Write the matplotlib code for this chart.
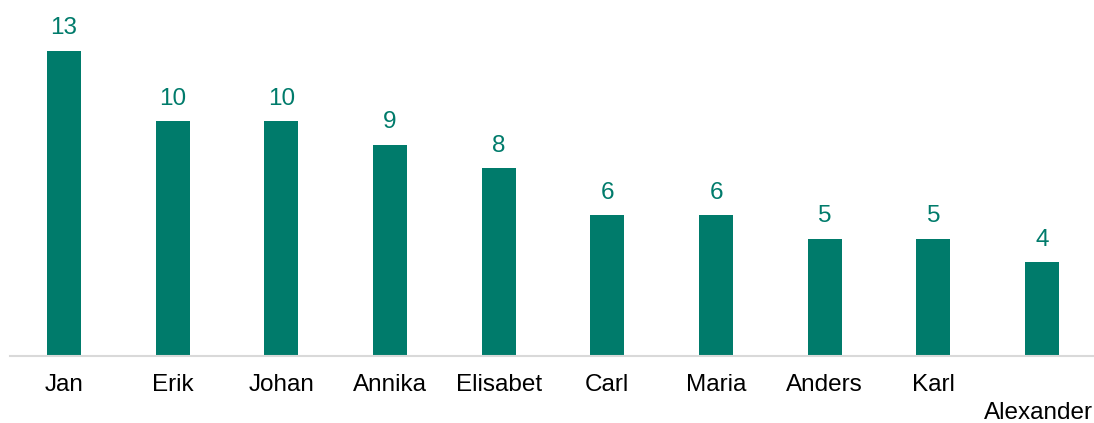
import matplotlib
matplotlib.use("Agg")
import matplotlib.pyplot as plt
import matplotlib.transforms as mtransforms

names = ["Jan", "Erik", "Johan", "Annika", "Elisabet", "Carl", "Maria", "Anders", "Karl", "Alexander"]
values = [13, 10, 10, 9, 8, 6, 6, 5, 5, 4]

bar_color = "#007B6B"
plt.rcParams["font.family"] = ["Liberation Sans", "DejaVu Sans"]

W, H = 1094, 423
fig = plt.figure(figsize=(W / 100, H / 100), dpi=100)
left_px, width_px = 9.67, 1086.7
bottom_px = H - 356
ax = fig.add_axes([left_px / W, bottom_px / H, width_px / W, 356 / H])

x = list(range(len(names)))
bars = ax.bar(x, values, width=0.313, color=bar_color)
ax.bar_label(bars, labels=[str(v) for v in values], padding=8, fontsize=17.5, color=bar_color)

ax.set_xlim(-0.5, len(names) - 0.5)
ax.set_ylim(0, 15.15)
ax.set_xticks(x)
labels = names[:-1] + ["\n" + names[-1]]
ax.set_xticklabels(labels, fontsize=17.5, color="#000000", linespacing=1.36)
ax.tick_params(axis="x", length=0, pad=13)
last = ax.get_xticklabels()[-1]
last.set_transform(last.get_transform() + mtransforms.ScaledTranslation(-4 / 100, 0, fig.dpi_scale_trans))
ax.set_yticks([])
for s in ["top", "right", "left"]:
    ax.spines[s].set_visible(False)
ax.spines["bottom"].set_color("#D9D9D9")
ax.spines["bottom"].set_linewidth(1.5)
ax.set_facecolor("white")
fig.patch.set_facecolor("white")

fig.savefig("out.png", dpi=100, facecolor="white")
